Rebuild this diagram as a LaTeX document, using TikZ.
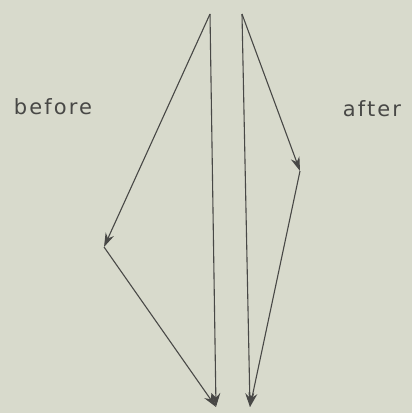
\documentclass[tikz,border=0pt]{standalone}
\usepackage{fontspec}
\setmainfont{DejaVu Sans}
\newfontfamily\lblfont[LetterSpace=10]{DejaVu Sans}
\usetikzlibrary{arrows.meta}
\definecolor{bg}{RGB}{216,218,204}
\definecolor{ink}{RGB}{72,72,70}
\begin{document}
\begin{tikzpicture}[x=1pt,y=-1pt,
  edge/.style={draw=ink,line width=1.1pt,-{Stealth[length=14pt,width=9pt]}},
  lbl/.style={text=ink,font=\lblfont\fontsize{21}{24}\selectfont,inner sep=0pt}]
\fill[bg] (0,0) rectangle (412,413);
\useasboundingbox (0,0) rectangle (412,413);
\coordinate (A) at (210,14);
\coordinate (B) at (104,247);
\coordinate (C) at (216,407);
\coordinate (D) at (242,14);
\coordinate (E) at (300,171);
\coordinate (F) at (250,407);
\draw[edge] (A) -- (B);
\draw[edge] (B) -- (C);
\draw[edge] (A) -- (C);
\draw[edge] (D) -- (E);
\draw[edge] (E) -- (F);
\draw[edge] (D) -- (F);
\node[lbl] (before) at (53,107) {before};
\node[lbl] (after) at (372,109) {after};
\end{tikzpicture}
\end{document}
